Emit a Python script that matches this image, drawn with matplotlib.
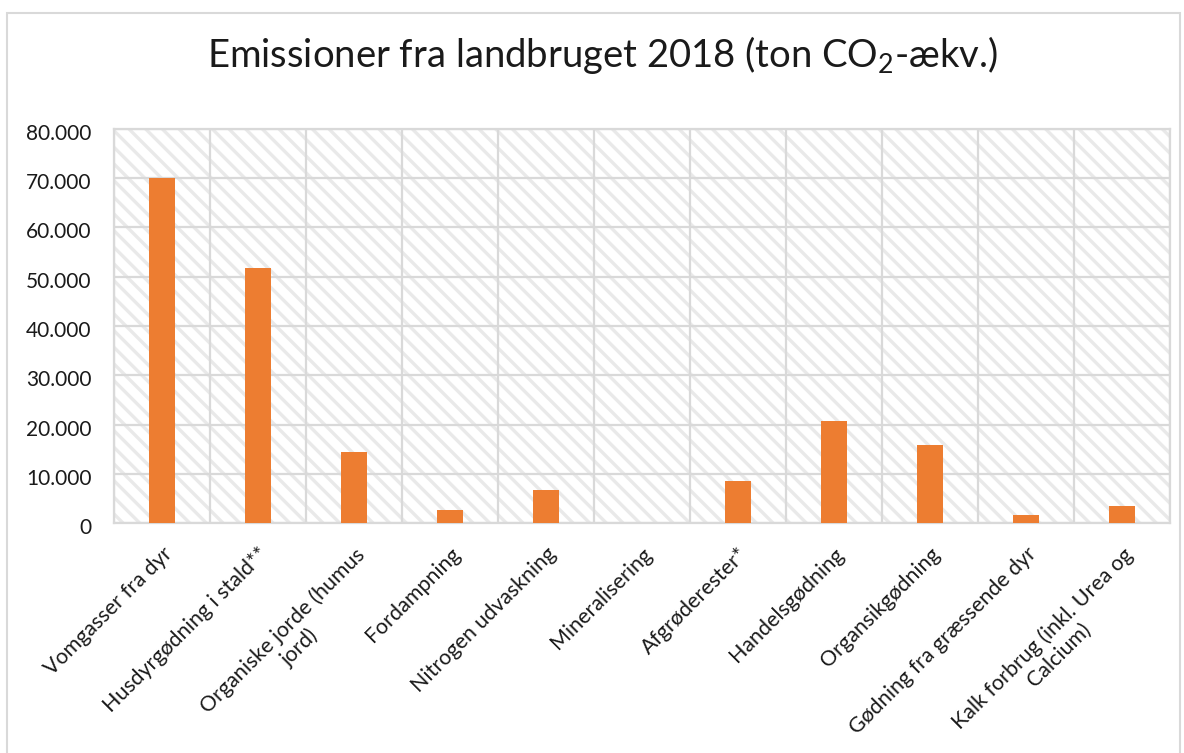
import matplotlib
matplotlib.use("Agg")
import matplotlib.pyplot as plt
from matplotlib.patches import Rectangle
from matplotlib.ticker import FuncFormatter
from matplotlib.transforms import ScaledTranslation

categories = [
    "Vomgasser fra dyr",
    "Husdyrgødning i stald**",
    "Organiske jorde (humus\njord)",
    "Fordampning",
    "Nitrogen udvaskning",
    "Mineralisering",
    "Afgrøderester*",
    "Handelsgødning",
    "Organsikgødning",
    "Gødning fra græssende dyr",
    "Kalk forbrug (inkl. Urea og\nCalcium)",
]
values = [70000, 51700, 14400, 2700, 6800, 0, 8600, 20800, 15900, 1700, 3500]
yticks = [0, 10000, 20000, 30000, 40000, 50000, 60000, 70000, 80000]

FONT = ["Lato", "DejaVu Sans"]
plt.rcParams["font.family"] = FONT
plt.rcParams["mathtext.fontset"] = "custom"
plt.rcParams["mathtext.rm"] = "Lato"
plt.rcParams["mathtext.it"] = "Lato"
plt.rcParams["hatch.linewidth"] = 2.4

GRID = "#d9d9d9"
BAR = "#ed7d31"
TXT = "#1a1a1a"

fig = plt.figure(figsize=(11.84, 7.53), dpi=100)
fig.patch.set_facecolor("white")
ax = fig.add_axes([114/1184, 1-523/753, (1170-114)/1184, (523-129)/753])

ax.patch.set_visible(False)
bg = Rectangle((0, 0), 1, 1, transform=ax.transAxes, facecolor="white",
               edgecolor="#e9e9e9", hatch="\\\\", linewidth=0, zorder=0)
ax.add_patch(bg)

x = list(range(len(categories)))
ax.bar(x, values, width=0.28, color=BAR, zorder=3)

ax.set_xlim(-0.5, len(categories) - 0.5)
ax.set_ylim(0, 80000)
ax.set_yticks(yticks)
ax.yaxis.set_major_formatter(FuncFormatter(lambda v, p: f"{int(v):,}".replace(",", ".")))
ax.set_xticks([i + 0.5 for i in range(-1, len(categories))])
ax.set_xticklabels([])
ax.grid(True, which="major", axis="both", color=GRID, linewidth=1.6, zorder=1)
ax.set_axisbelow(True)

ax.tick_params(axis="both", which="both", length=0)
ax.tick_params(axis="y", labelsize=15, labelcolor=TXT, pad=16)
for lab in ax.get_yticklabels():
    lab.set_transform(lab.get_transform() + ScaledTranslation(0, -3/100, fig.dpi_scale_trans))
for s in ax.spines.values():
    s.set_color(GRID)
    s.set_linewidth(1.6)

off = ScaledTranslation(0/100, -21/100, fig.dpi_scale_trans)
for i, lab in enumerate(categories):
    ax.text(i, 0, lab, transform=ax.get_xaxis_transform() + off,
            rotation=45, rotation_mode="anchor", ha="right", va="top",
            multialignment="center", fontsize=15.4, color=TXT)

fig.text(603/1184, 1-55/753, "Emissioner fra landbruget 2018 (ton CO$_2$-ækv.)",
         ha="center", va="center", fontsize=27.5, color=TXT)

border = Rectangle((7/1184, -0.05), (1180-7)/1184, 1.05-13/753, transform=fig.transFigure,
                   fill=False, edgecolor=GRID, linewidth=1.5)
fig.patches.append(border)

fig.savefig("out.png", dpi=100, facecolor="white")
